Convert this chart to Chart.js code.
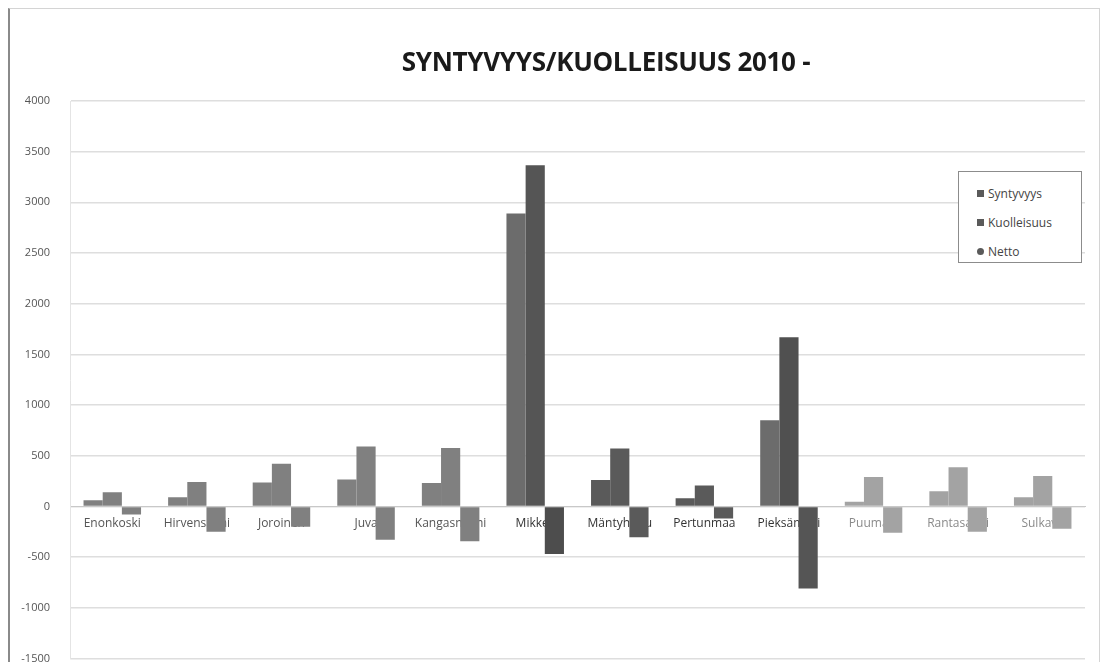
<!DOCTYPE html>
<html>
<head>
<meta charset="utf-8">
<script src="https://cdn.jsdelivr.net/npm/chart.js@4/dist/chart.umd.min.js"></script>
<style>
  html, body { margin: 0; padding: 0; background: #fff; overflow: hidden; }
  #wrap { position: relative; width: 1105px; height: 662px; overflow: hidden; }
  #frame { position: absolute; left: 8px; top: 8px; width: 1092px; height: 680px;
           border: 1px solid #d4d4d4; border-left: 2px solid #8a8a8a; box-sizing: border-box; }
  #c { position: absolute; left: 0; top: 0; }
  #title { position: absolute; top: 43px; left: 606px; transform: translateX(-50%);
           font: bold 26px "Open Sans", sans-serif; color: #1a1a1a; white-space: nowrap; letter-spacing: -0.3px; }
  #legend { position: absolute; left: 958px; top: 171px; width: 124px; height: 92px;
            border: 1px solid #8c8c8c; box-sizing: border-box; background: #fff;
            font: 12px "Open Sans", sans-serif; color: #444; padding: 7px 0 0 18px; }
  #legend .row { height: 29px; display: flex; align-items: center; }
  #legend .mk { width: 7px; height: 7px; margin-right: 4px; }
</style>
</head>
<body>
<div id="wrap">
  <div id="frame"></div>
  <canvas id="c" width="1105" height="685"></canvas>
  <div id="title">SYNTYVYYS/KUOLLEISUUS 2010 -</div>
  <div id="legend"></div>
</div>
<script>
// Municipalities of the region
const municipalities = ['Enonkoski', 'Hirvensalmi', 'Joroinen', 'Juva', 'Kangasniemi', 'Mikkeli',
  'Mäntyharju', 'Pertunmaa', 'Pieksämäki', 'Puumala', 'Rantasalmi', 'Sulkava'];

// Births, deaths and the net of the two
const syntyvyys   = [60, 90, 235, 265, 230, 2890, 260, 80, 850, 45, 150, 90];
const kuolleisuus = [140, 240, 420, 590, 575, 3365, 570, 205, 1670, 290, 385, 300];
const netto       = [-80, -250, -200, -330, -345, -470, -305, -120, -810, -260, -250, -220];

const seriesNames = ['Syntyvyys', 'Kuolleisuus', 'Netto'];
const yTicks = [-1500, -1000, -500, 0, 500, 1000, 1500, 2000, 2500, 3000, 3500, 4000];

// Shade of each municipality's bars (per series)
const shadeSynt = ['#808080','#808080','#808080','#808080','#808080','#6c6c6c','#5a5a5a','#5a5a5a','#6c6c6c','#a3a3a3','#a3a3a3','#a3a3a3'];
const shadeKuol = ['#808080','#808080','#808080','#808080','#808080','#555555','#5a5a5a','#5a5a5a','#505050','#a3a3a3','#a3a3a3','#a3a3a3'];
const shadeNet  = ['#808080','#808080','#808080','#808080','#808080','#4d4d4d','#5a5a5a','#5a5a5a','#555555','#a3a3a3','#a3a3a3','#a3a3a3'];
const labelShade = ['#555','#555','#555','#555','#555','#333','#333','#333','#333','#8a8a8a','#8a8a8a','#8a8a8a'];
const legendShade = '#5a5a5a';

const chart = new Chart(document.getElementById('c'), {
  type: 'bar',
  data: {
    labels: municipalities,
    datasets: [
      { label: seriesNames[0], data: syntyvyys,   backgroundColor: shadeSynt },
      { label: seriesNames[1], data: kuolleisuus, backgroundColor: shadeKuol },
      { label: seriesNames[2], data: netto,       backgroundColor: shadeNet }
    ]
  },
  options: {
    responsive: false,
    animation: false,
    datasets: { bar: { categoryPercentage: 0.68, barPercentage: 1.0 } },
    layout: { padding: { left: 8, right: 20, top: 101, bottom: 6 } },
    plugins: { legend: { display: false }, title: { display: false }, tooltip: { enabled: false } },
    scales: {
      x: {
        position: { y: 0 },
        grid: { display: false },
        border: { display: true, color: '#c8c8c8', width: 1 },
        ticks: { color: ctx => labelShade[ctx.index], padding: 2, maxRotation: 0, autoSkip: false,
                 font: { family: 'Open Sans', size: 12 } }
      },
      y: {
        min: -1500, max: 4000,
        afterFit: s => { s.width = 62; },
        afterBuildTicks: s => { s.ticks = yTicks.map(v => ({ value: v })); },
        grid: { color: '#dedede', lineWidth: 1.5, drawTicks: false },
        border: { display: true, color: '#e4e4e4' },
        ticks: { color: '#555', padding: 20, font: { family: 'Open Sans', size: 11 },
                 callback: v => String(v) }
      }
    }
  }
});

// Legend box built from the chart's own series
const lg = document.getElementById('legend');
chart.data.datasets.forEach((ds, i) => {
  const row = document.createElement('div');
  row.className = 'row';
  const mk = document.createElement('span');
  mk.className = 'mk';
  mk.style.background = legendShade;
  if (i === 2) mk.style.borderRadius = '50%';
  row.appendChild(mk);
  row.appendChild(document.createTextNode(ds.label));
  lg.appendChild(row);
});
</script>
</body>
</html>
